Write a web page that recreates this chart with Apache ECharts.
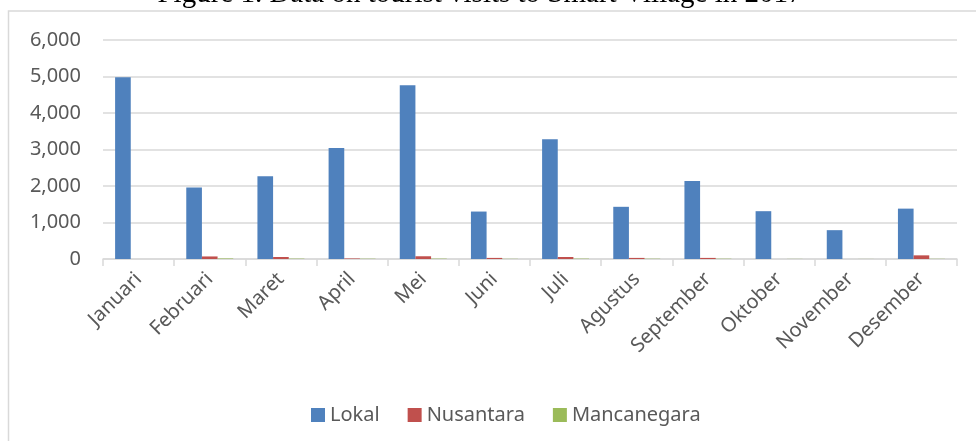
<!DOCTYPE html>
<html>
<head>
<meta charset="utf-8">
<script src="https://cdn.jsdelivr.net/npm/echarts@6/dist/echarts.min.js"></script>
<style>
html, body { margin: 0; padding: 0; background: #fff; }
#main { width: 976px; height: 441px; }
</style>
</head>
<body>
<div id="main"></div>
<script>
// data
var months = ['Januari', 'Februari', 'Maret', 'April', 'Mei', 'Juni', 'Juli', 'Agustus', 'September', 'Oktober', 'November', 'Desember'];
var lokal = [4980, 1960, 2270, 3040, 4760, 1300, 3280, 1430, 2140, 1310, 790, 1380];
var nusantara = [0, 70, 55, 15, 75, 30, 55, 30, 30, 0, 0, 100];
var mancanegara = [0, 15, 10, 8, 10, 5, 10, 8, 8, 3, 2, 5];
var yTicks = [0, 1000, 2000, 3000, 4000, 5000, 6000];

var labelColor = '#595959';
var lineColor = '#d9d9d9';

function barSeries(name, data, color)
{
    return {
        name: name,
        type: 'bar',
        data: data,
        barGap: '0%',
        barCategoryGap: '34%',
        itemStyle: { color: color },
        emphasis: { disabled: true }
    };
}

var chart = echarts.init(document.getElementById('main'), null, { renderer: 'canvas' });
var option = {
    animation: false,
    backgroundColor: '#fff',
    graphic: [
        {
            type: 'rect',
            shape: { x: 8.5, y: 11, width: 1000, height: 460 },
            style: { fill: 'none', stroke: '#d9d9d9', lineWidth: 1.5 },
            silent: true
        },
        {
            type: 'text',
            x: 480,
            y: 9,
            style: {
                text: 'Figure 1. Data on tourist visits to Smart Village in 2017',
                font: '29px "Liberation Serif", serif',
                fill: '#000',
                align: 'center',
                verticalAlign: 'bottom'
            },
            silent: true
        }
    ],
    grid: { left: 103, right: 19, top: 40, bottom: 182, containLabel: false },
    legend: {
        data: ['Lokal', 'Nusantara', 'Mancanegara'],
        top: 400,
        left: 306,
        itemWidth: 14,
        itemHeight: 14,
        itemGap: 28,
        icon: 'rect',
        textStyle: { color: labelColor, fontSize: 20, fontFamily: 'Noto Sans' }
    },
    xAxis: {
        type: 'category',
        data: months,
        boundaryGap: true,
        axisLine: { lineStyle: { color: lineColor, width: 1.5 } },
        axisTick: { show: true, length: 7, lineStyle: { color: lineColor, width: 1.5 } },
        axisLabel: {
            rotate: 45,
            margin: 17,
            interval: 0,
            color: labelColor,
            fontSize: 20,
            fontFamily: 'Noto Sans'
        }
    },
    yAxis: {
        type: 'value',
        min: yTicks[0],
        max: yTicks[yTicks.length - 1],
        interval: 1000,
        axisLine: { show: false },
        axisTick: { show: false },
        splitLine: { lineStyle: { color: lineColor, width: 1.5 } },
        axisLabel: {
            margin: 22,
            color: labelColor,
            fontSize: 20,
            fontFamily: 'Noto Sans',
            formatter: function (v) { return v.toLocaleString('en-US'); }
        }
    },
    series: [
        barSeries('Lokal', lokal, '#4f81bd'),
        barSeries('Nusantara', nusantara, '#c0504d'),
        barSeries('Mancanegara', mancanegara, '#9bbb59')
    ]
};
chart.setOption(option);
</script>
</body>
</html>
